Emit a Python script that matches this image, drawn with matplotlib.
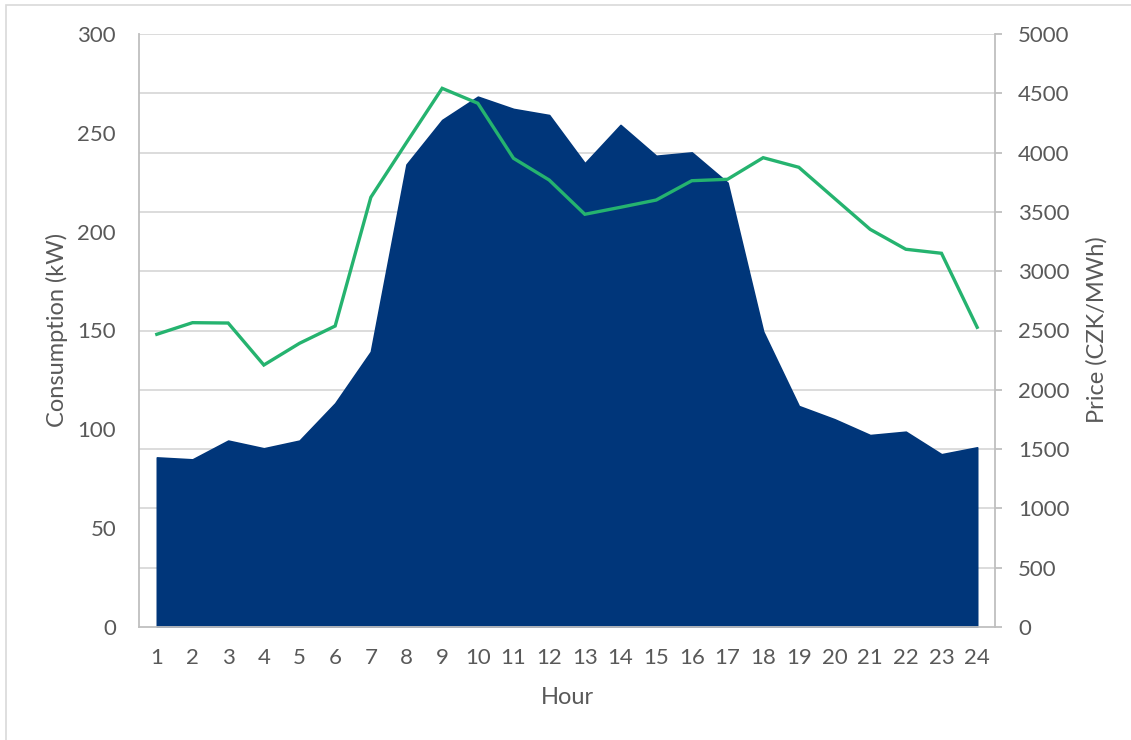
import numpy as np
import matplotlib
matplotlib.use("Agg")
import matplotlib.pyplot as plt
from matplotlib.patches import Rectangle

# Hourly load profile and spot price
hours = list(range(1, 25))
consumption_kw = [85.8, 84.8, 94.3, 90.4, 94.3, 113.2, 139.3, 234.0, 256.5, 268.3,
                  262.1, 259.0, 234.6, 254.0, 238.4, 240.1, 224.8, 149.5, 111.8, 105.1,
                  97.1, 98.8, 87.4, 90.9]
price_czk = [2468, 2566, 2563, 2209, 2392, 2538, 3623, 4085, 4542, 4416,
             3952, 3769, 3480, 3539, 3600, 3763, 3775, 3957, 3876, 3614,
             3353, 3185, 3151, 2527]
left_ticks = [0, 50, 100, 150, 200, 250, 300]
right_ticks = [0, 500, 1000, 1500, 2000, 2500, 3000, 3500, 4000, 4500, 5000]

NAVY = "#00367A"
GREEN = "#25B36F"
GRID = "#D9D9D9"
SPINE = "#BFBFBF"
TEXT = "#595959"

plt.rcParams["font.family"] = ["Lato", "DejaVu Sans"]

W, H = 1131, 740
fig = plt.figure(figsize=(W / 100, H / 100), dpi=100)
fig.patches.append(Rectangle((6 / W, -0.01), 1.02, 1 - 5 / H + 0.01,
                             transform=fig.transFigure, fill=False,
                             edgecolor="#D9D9D9", linewidth=1.2))

ax = fig.add_axes([139 / W, 1 - 627 / H, (995 - 139) / W, (627 - 34) / H])
ax2 = ax.twinx()

ymax_left = left_ticks[-1]
ymax_right = right_ticks[-1]

# horizontal gridlines follow the price axis, drawn beneath the area
for v in right_ticks[1:]:
    ax.axhline(v / ymax_right * ymax_left, color=GRID, linewidth=1.3, zorder=0)

ax.fill_between(hours, consumption_kw, 0, color=NAVY, edgecolor=NAVY,
                linewidth=1.2, zorder=1)
ax2.plot(hours, price_czk, color=GREEN, linewidth=2.4, solid_joinstyle="miter",
         zorder=3)

ax.set_xlim(0.5, 24.5)
ax.set_ylim(0, ymax_left)
ax2.set_ylim(0, ymax_right)

ax.set_xticks(hours)
ax.set_xticklabels([str(h) for h in hours])
ax.set_yticks(left_ticks)
ax2.set_yticks(right_ticks)

for a in (ax, ax2):
    for s in a.spines.values():
        s.set_visible(False)
ax.spines["left"].set_visible(True)
ax.spines["bottom"].set_visible(True)
ax2.spines["right"].set_visible(True)
for s in (ax.spines["left"], ax.spines["bottom"], ax2.spines["right"]):
    s.set_color(SPINE)
    s.set_linewidth(1.3)
ax.spines["bottom"].set_zorder(4)

ax.tick_params(axis="x", length=0, pad=15, labelsize=16, labelcolor=TEXT)
ax.tick_params(axis="y", length=0, pad=16.5, labelsize=16, labelcolor=TEXT)
ax2.tick_params(axis="y", length=5, width=1.3, color=SPINE, pad=11.5,
                labelsize=16, labelcolor=TEXT)

# axis titles
fig.text(567 / W, 1 - 697 / H, "Hour", fontsize=17, color=TEXT,
         ha="center", va="center")
fig.text(57 / W, 1 - 330 / H, "Consumption (kW)", fontsize=17, color=TEXT,
         ha="center", va="center", rotation=90)
fig.text(1097 / W, 1 - 330 / H, "Price (CZK/MWh)", fontsize=17, color=TEXT,
         ha="center", va="center", rotation=90)

fig.savefig("out.png", dpi=100, facecolor="white")
